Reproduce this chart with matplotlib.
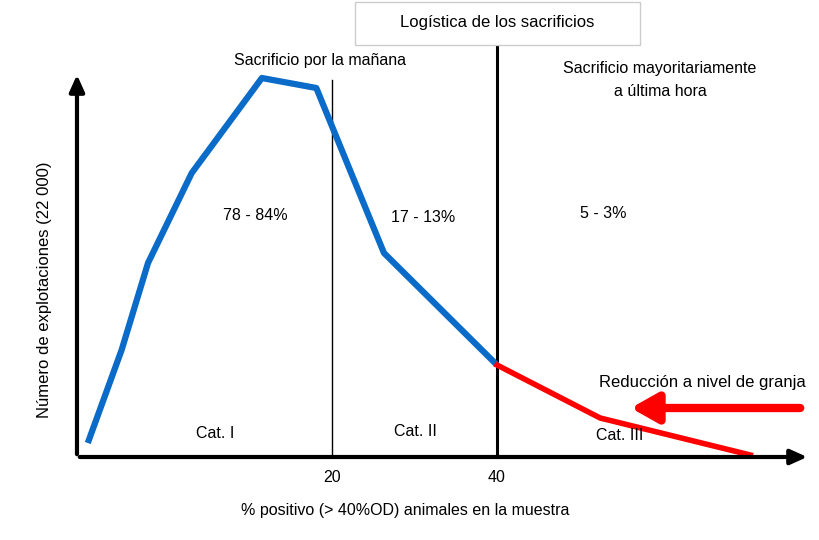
import matplotlib.pyplot as plt
from matplotlib.patches import Rectangle

plt.rcParams['font.family'] = 'Liberation Sans'

# Curva: % positivos vs. número de explotaciones (unidades arbitrarias)
x_azul = [-9.6, -5.5, -2.3, 3.0, 11.5, 18.1, 26.3, 40.0]
y_azul = [1.4, 10.7, 19.4, 28.4, 37.9, 36.9, 20.4, 9.2]
x_rojo = [40.0, 52.5, 70.7]
y_rojo = [9.2, 3.9, 0.2]
ticks_x = [20, 40]

fig = plt.figure(figsize=(8.2, 5.4), dpi=100)
ax = fig.add_axes([0, 0, 1, 1])
ax.set_xlim(-20.24, 79.15)
ax.set_ylim(-8.3, 45.7)
ax.axis('off')


def p(px, py):
    # pixel de la imagen -> coordenadas de datos
    return ((px - 167) / 8.25, (457 - py) / 10)


x0, y0 = p(77, 457)
# ejes con flecha
ax.annotate('', xy=p(810, 457), xytext=(x0, y0),
            arrowprops=dict(arrowstyle='-|>,head_width=0.45,head_length=1.0', lw=3, color='black'))
ax.annotate('', xy=p(77, 72), xytext=(x0, y0),
            arrowprops=dict(arrowstyle='-|>,head_width=0.45,head_length=1.0', lw=3, color='black'))

# líneas verticales
ax.plot([20, 20], [0, p(0, 80)[1]], color='black', lw=1)
ax.plot([40, 40], [0, p(0, 45)[1]], color='black', lw=2.2)

ax.plot(x_azul, y_azul, color='#0a6bc8', lw=4.5, solid_capstyle='butt', solid_joinstyle='round')
ax.plot(x_rojo, y_rojo, color='#ff0000', lw=4, solid_joinstyle='round')

for t in ticks_x:
    ax.text(t, p(0, 477)[1], str(t), ha='center', va='center', fontsize=11.5)

# caja del título
bx0, by0 = p(355, 45)
bx1, by1 = p(640, 2)
ax.add_patch(Rectangle((bx0, by0), bx1 - bx0, by1 - by0, fc='white', ec='#cccccc', lw=1, zorder=5))
ax.text(*p(497, 23), 'Logística de los sacrificios', ha='center', va='center', fontsize=12, zorder=6)

fs = 11.5
ax.text(*p(320, 60), 'Sacrificio por la mañana', ha='center', va='center', fontsize=fs)
ax.text(*p(660, 80), 'Sacrificio mayoritariamente\na última hora', ha='center', va='center',
        fontsize=fs, linespacing=1.7)
ax.text(*p(255, 216), '78 - 84%', ha='center', va='center', fontsize=fs)
ax.text(*p(423, 217), '17 - 13%', ha='center', va='center', fontsize=fs)
ax.text(*p(603, 213), '5 - 3%', ha='center', va='center', fontsize=fs)
ax.text(*p(215, 433), 'Cat. I', ha='center', va='center', fontsize=fs)
ax.text(*p(415, 432), 'Cat. II', ha='center', va='center', fontsize=fs)
ax.text(*p(620, 436), 'Cat. III', ha='center', va='center', fontsize=fs)
ax.text(*p(702, 382), 'Reducción a nivel de granja', ha='center', va='center', fontsize=12)
ax.annotate('', xy=p(628, 408), xytext=p(803, 408),
            arrowprops=dict(arrowstyle='-|>,head_width=0.9,head_length=1.6', lw=6, color='#ff0000'))
ax.text(*p(45, 290), 'Número de explotaciones (22 000)', rotation=90, ha='center', va='center', fontsize=12)
ax.text(*p(405, 510), '% positivo (> 40%OD) animales en la muestra', ha='center', va='center', fontsize=11.5)

fig.savefig('out.png', dpi=100)
